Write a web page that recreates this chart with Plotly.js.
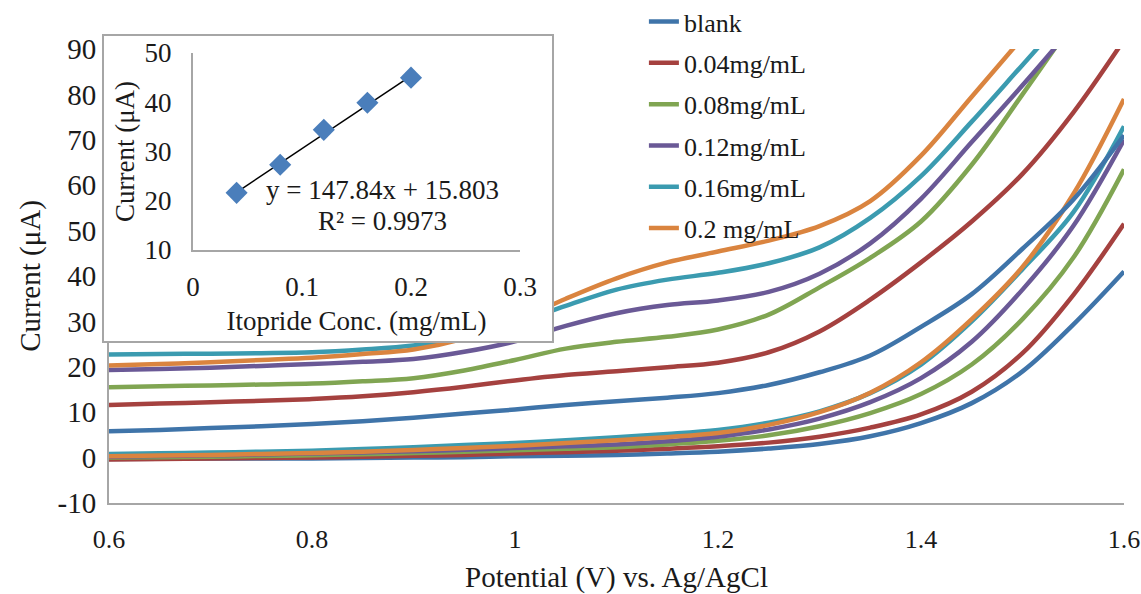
<!DOCTYPE html>
<html><head><meta charset="utf-8">
<script src="https://cdn.plot.ly/plotly-3.0.1.min.js"></script>
<style>
body{margin:0;background:#fff;}
#wrap{position:relative;width:1141px;height:594px;overflow:hidden;}
#main{position:absolute;left:0;top:0;width:1141px;height:594px;}
#inset{position:absolute;left:103px;top:35px;width:450px;height:307px;background:#fff;outline:2px solid #a6a6a6;outline-offset:-1px;}
</style></head><body>
<div id="wrap"><div id="main"></div><div id="inset"></div></div>
<script>
// ---- main chart data (potential in V, current in µA) ----
const seriesNames = ["blank", "0.04mg/mL", "0.08mg/mL", "0.12mg/mL", "0.16mg/mL", "0.2 mg/mL"];
const seriesColors = ["#3F74A9", "#A5413F", "#80A552", "#6A5996", "#3B9BB0", "#DA843F"];

const yTickVals = [-10, 0, 10, 20, 30, 40, 50, 60, 70, 80, 90];
const yTickText = ["-10", "0", "10", "20", "30", "40", "50", "60", "70", "80", "90"];

// potential grid (V) shared by both scan branches
const potential = [0.6, 0.65, 0.7, 0.75, 0.8, 0.85, 0.9, 0.95, 1.0, 1.05, 1.1,
                   1.15, 1.2, 1.25, 1.3, 1.35, 1.4, 1.45, 1.5, 1.55, 1.6];

// lower (forward) branch currents
const blankLower = [-0.3, -0.25, -0.2, -0.2, -0.2, -0.1, 0.0, 0.1, 0.3, 0.4, 0.6, 0.9, 1.3, 2.0, 3.0, 4.7, 7.6, 12.0, 19.0, 29.3, 41.0];
const c004Lower  = [-0.4, -0.3, -0.2, -0.1, 0.0, 0.2, 0.4, 0.6, 0.9, 1.2, 1.5, 1.95, 2.5, 3.3, 4.6, 6.6, 9.5, 14.5, 23.0, 35.8, 51.5];
const c008Lower  = [0.0, 0.1, 0.2, 0.35, 0.5, 0.75, 1.0, 1.3, 1.6, 1.95, 2.3, 2.9, 3.7, 4.9, 6.9, 9.8, 14.0, 20.5, 30.5, 44.0, 63.5];
const c012Lower  = [0.2, 0.35, 0.5, 0.7, 0.9, 1.15, 1.4, 1.75, 2.1, 2.5, 2.9, 3.6, 4.6, 6.2, 8.6, 12.2, 17.5, 25.5, 37.0, 51.0, 70.0];
const c016Lower  = [0.8, 0.95, 1.1, 1.3, 1.5, 1.9, 2.3, 2.75, 3.2, 3.8, 4.5, 5.2, 6.1, 7.7, 10.2, 14.2, 20.5, 30.0, 41.5, 54.0, 73.0];
const c020Lower  = [0.3, 0.45, 0.6, 0.8, 1.0, 1.3, 1.7, 2.1, 2.6, 3.2, 3.8, 4.5, 5.4, 7.2, 10.0, 14.3, 21.0, 30.5, 42.0, 58.0, 79.0];

// upper (reverse) branch currents; null = beyond the 90 µA top of the axis
const blankUpper = [5.8, 6.1, 6.5, 6.9, 7.4, 8.0, 8.8, 9.7, 10.6, 11.6, 12.4, 13.2, 14.2, 16.0, 18.8, 22.5, 28.8, 36.0, 46.0, 56.8, 71.0];
const c004Upper  = [11.6, 11.9, 12.2, 12.5, 12.9, 13.5, 14.4, 15.6, 17.0, 18.2, 19.0, 19.9, 20.9, 23.2, 27.8, 34.8, 43.0, 52.0, 62.5, 76.0, 92.0];
const c008Upper  = [15.5, 15.7, 15.9, 16.1, 16.3, 16.8, 17.5, 19.2, 21.5, 24.0, 25.5, 26.6, 28.2, 31.5, 37.5, 44.0, 52.0, 64.5, 80.0, 96.0, null];
const c012Upper  = [19.3, 19.5, 19.8, 20.2, 20.6, 21.1, 21.7, 23.3, 25.6, 29.0, 31.8, 33.6, 34.6, 36.5, 40.5, 47.2, 57.0, 69.5, 82.0, 95.0, null];
const c016Upper  = [22.7, 22.8, 22.9, 23.0, 23.2, 23.8, 24.7, 26.5, 29.5, 33.4, 37.0, 39.2, 40.7, 42.8, 46.3, 52.8, 62.0, 74.0, 86.5, 99.0, null];
const c020Upper  = [20.3, 20.6, 21.0, 21.5, 22.0, 22.8, 23.8, 26.2, 30.0, 35.0, 39.5, 43.0, 45.4, 47.8, 51.0, 56.5, 66.5, 79.5, 92.5, null, null];

const lowers = [blankLower, c004Lower, c008Lower, c012Lower, c016Lower, c020Lower];
const uppers = [blankUpper, c004Upper, c008Upper, c012Upper, c016Upper, c020Upper];

// ---- inset data ----
const concs = [0.04, 0.08, 0.12, 0.16, 0.2];
const peakCurrents = [21.6, 27.3, 34.4, 39.9, 45.0];
const fitSlope = 147.84;
const fitIntercept = 15.803;
const fitR2 = 0.9973;

const FONT = 'Liberation Serif, Times New Roman, serif';
const TXT = '#1a1a1a';

const traces = [];
seriesNames.forEach((name, i) => {
  traces.push({
    x: potential, y: lowers[i], type: 'scatter', mode: 'lines', name: name,
    legendgroup: 'g' + i, showlegend: true,
    line: {color: seriesColors[i], width: 4.5, shape: 'spline', smoothing: 1},
    hoverinfo: 'skip'
  });
});
seriesNames.forEach((name, i) => {
  traces.push({
    x: potential, y: uppers[i], type: 'scatter', mode: 'lines', name: name,
    legendgroup: 'g' + i, showlegend: false,
    line: {color: seriesColors[i], width: 4.5, shape: 'spline', smoothing: 1},
    hoverinfo: 'skip'
  });
});

const mainLayout = {
  width: 1141, height: 594,
  margin: {l: 109, r: 17, t: 49, b: 91, autoexpand: false},
  paper_bgcolor: '#fff', plot_bgcolor: '#fff',
  font: {family: FONT, color: TXT},
  showlegend: true,
  legend: {
    x: 0.527, y: 1.112, xanchor: 'left', yanchor: 'top',
    bgcolor: 'rgba(0,0,0,0)', borderwidth: 0,
    font: {family: FONT, size: 26, color: TXT},
    traceorder: 'grouped', tracegroupgap: 4.5
  },
  xaxis: {
    range: [0.6, 1.6], tick0: 0.6, dtick: 0.2,
    showgrid: false, zeroline: false, showline: true,
    linecolor: '#a6a6a6', linewidth: 2, ticks: '',
    ticklabelstandoff: 12, ticklabeloverflow: 'allow',
    tickfont: {family: FONT, size: 26, color: TXT},
    title: {text: 'Potential (V) vs. Ag/AgCl', font: {family: FONT, size: 29, color: TXT}, standoff: 22}
  },
  yaxis: {
    range: [-10, 90], tickmode: 'array', tickvals: yTickVals, ticktext: yTickText,
    showgrid: false, zeroline: false, showline: true,
    linecolor: '#a6a6a6', linewidth: 2, ticks: '',
    ticklabelstandoff: 5,
    tickfont: {family: FONT, size: 29, color: TXT},
    title: {text: 'Current (μA)', font: {family: FONT, size: 29, color: TXT}, standoff: 8}
  }
};

Plotly.newPlot('main', traces, mainLayout, {displayModeBar: false, staticPlot: true});

// ---- inset ----
const fitX = [concs[0], concs[concs.length - 1]];
const fitY = fitX.map(v => fitSlope * v + fitIntercept);

const insetTraces = [
  {x: fitX, y: fitY, type: 'scatter', mode: 'lines', line: {color: '#000', width: 1.5}, hoverinfo: 'skip'},
  {x: concs, y: peakCurrents, type: 'scatter', mode: 'markers',
   marker: {symbol: 'diamond', size: 17, color: '#4A7EBB', line: {width: 0}}, hoverinfo: 'skip'}
];

const insetLayout = {
  width: 450, height: 307,
  margin: {l: 90, r: 33, t: 18, b: 92, autoexpand: false},
  paper_bgcolor: 'rgba(0,0,0,0)', plot_bgcolor: 'rgba(0,0,0,0)',
  font: {family: FONT, color: TXT},
  showlegend: false,
  xaxis: {
    range: [0, 0.3], tick0: 0, dtick: 0.1,
    showgrid: false, zeroline: false, showline: true,
    linecolor: '#a6a6a6', linewidth: 2, ticks: '',
    ticklabelstandoff: 12, ticklabeloverflow: 'allow',
    tickfont: {family: FONT, size: 27, color: TXT},
    title: {text: 'Itopride Conc. (mg/mL)', font: {family: FONT, size: 27, color: TXT}, standoff: 10}
  },
  yaxis: {
    range: [10, 50], tick0: 10, dtick: 10,
    showgrid: false, zeroline: false, showline: true,
    linecolor: '#a6a6a6', linewidth: 2, ticks: '',
    ticklabelstandoff: 14,
    tickfont: {family: FONT, size: 27, color: TXT},
    title: {text: 'Current (μA)', font: {family: FONT, size: 27, color: TXT}, standoff: 2}
  },
  annotations: [
    {xref: 'x', yref: 'y', x: 0.174, y: 22.2, showarrow: false,
     text: 'y = ' + fitSlope + 'x + ' + fitIntercept, font: {family: FONT, size: 27, color: TXT}},
    {xref: 'x', yref: 'y', x: 0.174, y: 15.9, showarrow: false,
     text: 'R² = ' + fitR2, font: {family: FONT, size: 27, color: TXT}}
  ]
};

Plotly.newPlot('inset', insetTraces, insetLayout, {displayModeBar: false, staticPlot: true});
</script>
</body></html>
